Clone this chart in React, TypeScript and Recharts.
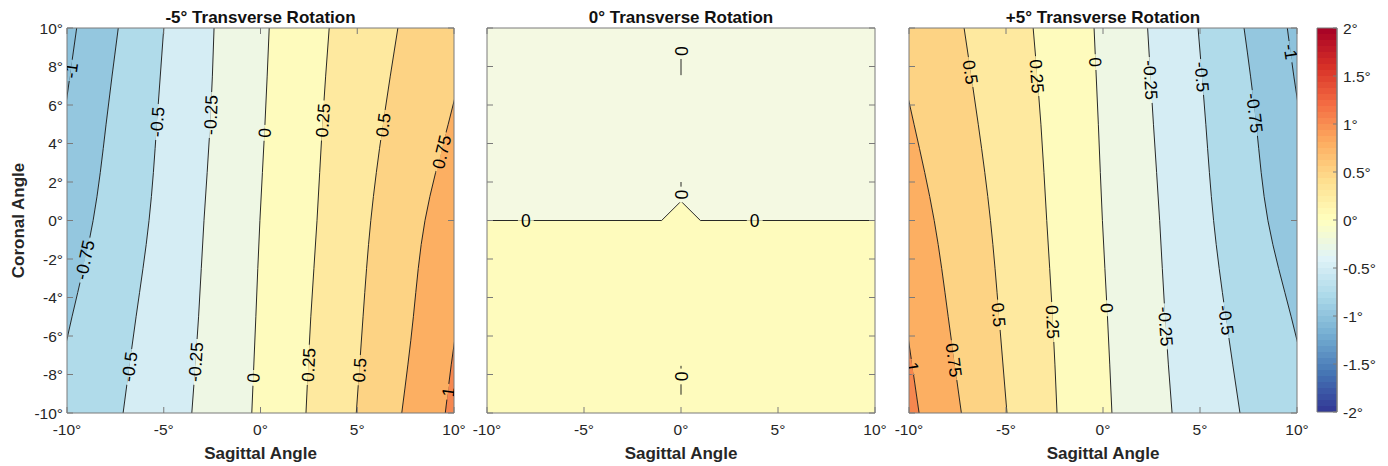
import React from 'react';
import { ComposedChart, Area, Line, Scatter, XAxis, YAxis, Bar } from 'recharts';

const FONT = "'Liberation Sans', Arial, Helvetica, sans-serif";
const H = 466;
const LABEL_FS = 17.5;
const AXIS = '#7a7a7a';
const TXT = '#262626';

// coronal rows at which contour positions were read
const coronalRows = [10, 5, 0, -5, -10];
const sagTicks = [-10, -5, 0, 5, 10];
const corTicks = [-10, -8, -6, -4, -2, 0, 2, 4, 6, 8, 10];
const cbTicks = [-2, -1.5, -1, -0.5, 0, 0.5, 1, 1.5, 2];

// -5° transverse: sagittal angle of each contour at each coronal row
const negLevels = [-1, -0.75, -0.5, -0.25, 0, 0.25, 0.5, 0.75, 1];
const neg_m1 = [-9.5, -10.2, -10.9, -11.6, -12.3];
const neg_m075 = [-7.35, -7.98, -8.65, -9.74, -10.85];
const neg_m05 = [-5.0, -5.36, -5.76, -6.43, -7.1];
const neg_m025 = [-2.4, -2.6, -2.92, -3.2, -3.55];
const neg_0 = [0.45, 0.23, -0.03, -0.24, -0.45];
const neg_025 = [3.55, 3.2, 2.92, 2.6, 2.35];
const neg_05 = [7.1, 6.33, 5.7, 5.3, 4.95];
const neg_075 = [10.9, 9.7, 8.5, 7.9, 7.3];
const neg_1 = [12.8, 12.0, 11.2, 10.23, 9.55];
const negLabels = [
  { level: -1, y: 7.8 }, { level: -0.75, y: -2.05 },
  { level: -0.5, y: 5.12 }, { level: -0.25, y: 5.48 }, { level: 0, y: 4.55 },
  { level: 0.25, y: 5.2 }, { level: 0.5, y: 4.96 }, { level: 0.75, y: 3.56 },
  { level: -0.5, y: -7.6 }, { level: -0.25, y: -7.35 }, { level: 0, y: -8.18 },
  { level: 0.25, y: -7.5 }, { level: 0.5, y: -7.77 }, { level: 1, y: -8.9 },
];

// +5° transverse
const posLevels = [1, 0.75, 0.5, 0.25, 0, -0.25, -0.5, -0.75, -1];
const pos_1 = [-12.3, -11.6, -10.9, -10.2, -9.48];
const pos_075 = [-10.85, -9.74, -8.7, -7.98, -7.3];
const pos_05 = [-7.16, -6.43, -5.8, -5.36, -4.95];
const pos_025 = [-3.6, -3.2, -2.9, -2.6, -2.37];
const pos_0 = [-0.46, -0.24, -0.03, 0.23, 0.46];
const pos_m025 = [2.3, 2.6, 2.92, 3.2, 3.56];
const pos_m05 = [4.9, 5.3, 5.7, 6.33, 7.06];
const pos_m075 = [7.27, 7.9, 8.5, 9.7, 10.85];
const pos_m1 = [9.5, 10.23, 11.2, 12.0, 12.8];
const posLabels = [
  { level: 0.5, y: 7.71 }, { level: 0.25, y: 7.5 }, { level: 0, y: 8.23 },
  { level: -0.25, y: 7.3 }, { level: -0.5, y: 7.46 }, { level: -0.75, y: 5.58 },
  { level: -1, y: 8.77 }, { level: 0.75, y: -7.25 }, { level: 0.5, y: -4.9 },
  { level: 0.25, y: -5.27 }, { level: 0, y: -4.55 }, { level: -0.25, y: -5.5 },
  { level: -0.5, y: -5.17 }, { level: 1, y: -7.6 },
];

// 0° transverse: the zero contour (coronal as a function of sagittal)
const zeroX = [-10, -1, 0, 1, 10];
const zeroY = [0, 0, 1, 0, 0];
const stubTop = [{ x: 0, y: 8.8 }, { x: 0, y: 7.55 }];
const stubMid = [{ x: 0, y: 2.0 }, { x: 0, y: 1.0 }];
const stubLow = [{ x: 0, y: -7.55 }, { x: 0, y: -9.05 }];
const midLabelSpots = [
  { x: -8.0, y: 0, dir: 'h' }, { x: 3.8, y: 0, dir: 'h' },
  { x: 0, y: 8.8, dir: 'v' }, { x: 0, y: 1.35, dir: 'v' }, { x: 0, y: -8.1, dir: 'v' },
];

// band fills keyed by lower level of the band
const BAND_FILL: Record<string, string> = {
  lo: '#8dc2dc', '-1': '#94c7df', '-0.75': '#b0dbea', '-0.5': '#d5edf4',
  '-0.25': '#eef7e4', '0': '#fefbbd', '0.25': '#fee99f', '0.5': '#fdd384',
  '0.75': '#fcaf62', '1': '#f6874f',
};
const MID_TOP = '#f4f9e2';
const MID_BOTTOM = '#fefbbd';

const RDYLBU = ['#313695', '#4575b4', '#74add1', '#abd9e9', '#e0f3f8', '#ffffbf',
  '#fee090', '#fdae61', '#f46d43', '#d73027', '#a50026'];

function cmap(p: number) {
  const s = Math.min(p * 10, 9.9999);
  const i = Math.floor(s);
  const t = s - i;
  const a = RDYLBU[i], b = RDYLBU[i + 1];
  const ch = (h: string, o: number) => parseInt(h.slice(o, o + 2), 16);
  const mix = (o: number) => Math.round(ch(a, o) + (ch(b, o) - ch(a, o)) * t);
  return `rgb(${mix(1)},${mix(3)},${mix(5)})`;
}

function fillFor(levels: number[], k: number) {
  const a = k > 0 ? levels[k - 1] : null;
  const b = k < levels.length ? levels[k] : null;
  if (a === null) return b! < 0 ? BAND_FILL.lo : BAND_FILL[String(b)];
  if (b === null) return a < 0 ? BAND_FILL.lo : BAND_FILL[String(a)];
  return BAND_FILL[String(Math.min(a, b))];
}

function interp(xs: number[], y: number) {
  for (let i = 0; i < coronalRows.length - 1; i++) {
    const y0 = coronalRows[i], y1 = coronalRows[i + 1];
    if (y <= y0 && y >= y1) {
      const t = (y - y0) / (y1 - y0);
      return { x: xs[i] + t * (xs[i + 1] - xs[i]), slope: (xs[i + 1] - xs[i]) / (y1 - y0) };
    }
  }
  return { x: xs[0], slope: 0 };
}

const glyphW = (s: string) =>
  s.split('').reduce((w, c) => w + (c === '.' ? 0.278 : c === '-' ? 0.333 : 0.556), 0);

const ContourLabel = (props: any) => {
  const { cx, cy, payload } = props;
  if (cx == null || cy == null || !payload) return <g />;
  const w = glyphW(payload.text) * LABEL_FS + 6;
  return (
    <g transform={`translate(${cx},${cy}) rotate(${payload.angle})`}>
      <rect x={-w / 2} y={-1.8} width={w} height={1.8} fill={payload.sideA} />
      <rect x={-w / 2} y={0} width={w} height={1.8} fill={payload.sideB} />
      <text x={0} y={0} dy="0.36em" textAnchor="middle" fontSize={LABEL_FS} fontFamily={FONT} fill="#000">
        {payload.text}
      </text>
    </g>
  );
};

const noDot = () => <g />;
const fmtDeg = (v: number) => `${v}°`;
const blank = () => '';
const tickStyle = { fill: TXT, fontSize: 15.5, fontFamily: FONT };

const titleLabel = (title: string) => (p: any) => {
  const vb = p.viewBox;
  return (
    <text x={vb.x + vb.width / 2} y={vb.y + vb.height - 5} textAnchor="middle"
      fontWeight="bold" fontSize={17} fontFamily={FONT} fill="#111">{title}</text>
  );
};
const xTitle = (p: any) => {
  const vb = p.viewBox;
  return (
    <text x={vb.x + vb.width / 2} y={vb.y + vb.height - 7} textAnchor="middle"
      fontWeight="bold" fontSize={17} fontFamily={FONT} fill={TXT}>Sagittal Angle</text>
  );
};
const yTitle = (p: any) => {
  const vb = p.viewBox;
  const x = vb.x + 24, y = vb.y + vb.height / 2;
  return (
    <text x={x} y={y} transform={`rotate(-90 ${x} ${y})`} textAnchor="middle"
      fontWeight="bold" fontSize={17} fontFamily={FONT} fill={TXT}>Coronal Angle</text>
  );
};

function axes(title: string, leftW: number, rightW: number, showY: boolean, flipY: boolean) {
  return [
    <XAxis key="xb" xAxisId={0} type="number" dataKey="x" domain={[-10, 10]} allowDataOverflow ticks={sagTicks}
      tickFormatter={fmtDeg} tick={tickStyle} height={53} tickSize={-6} tickMargin={17}
      axisLine={{ stroke: AXIS }} tickLine={{ stroke: AXIS }} label={xTitle} />,
    <XAxis key="xt" xAxisId="t" orientation="top" type="number" domain={[-10, 10]} allowDataOverflow
      ticks={sagTicks} tickFormatter={blank} tick={tickStyle} height={28} tickSize={-6} tickMargin={4}
      axisLine={{ stroke: AXIS }} tickLine={{ stroke: AXIS }} label={titleLabel(title)} />,
    <YAxis key="yl" yAxisId={0} type="number" dataKey="y" domain={[-10, 10]} allowDataOverflow ticks={corTicks}
      reversed={flipY} tickFormatter={showY ? fmtDeg : blank} tick={tickStyle} width={leftW} tickSize={-6} tickMargin={10}
      axisLine={{ stroke: AXIS }} tickLine={{ stroke: AXIS }} label={showY ? yTitle : undefined} />,
    <YAxis key="yr" yAxisId="r" orientation="right" type="number" domain={[-10, 10]} allowDataOverflow
      reversed={flipY} ticks={corTicks} tickFormatter={blank} tick={tickStyle} width={rightW} tickSize={-6} tickMargin={4}
      axisLine={{ stroke: AXIS }} tickLine={{ stroke: AXIS }} />,
  ];
}

function ContourPanel(props: {
  title: string; levels: number[]; contours: number[][]; labels: { level: number; y: number }[];
  reading: 'up' | 'down'; width: number; leftW: number; rightW: number; showY: boolean;
}) {
  const { title, levels, contours, labels, reading, width, leftW, rightW, showY } = props;
  const n = contours.length;
  const data = coronalRows.map((y, i) => {
    const row: any = { y };
    contours.forEach((c, k) => { row['c' + k] = c[i]; });
    for (let k = 0; k <= n; k++) {
      row['b' + k] = [k === 0 ? -15 : contours[k - 1][i], k === n ? 15 : contours[k][i]];
    }
    return row;
  });
  const labelPts = labels.map((l) => {
    const k = levels.indexOf(l.level);
    const { x, slope } = interp(contours[k], l.y);
    const ang = reading === 'up' ? Math.atan2(-1, slope) : Math.atan2(1, -slope);
    const lc = fillFor(levels, k), rc = fillFor(levels, k + 1);
    return {
      x, y: l.y, text: String(l.level), angle: (ang * 180) / Math.PI,
      sideA: reading === 'up' ? lc : rc, sideB: reading === 'up' ? rc : lc,
    };
  });
  const bands = Array.from({ length: n + 1 }, (_, k) => k);
  return (
    <ComposedChart width={width} height={H} layout="vertical" data={data}
      margin={{ top: 0, right: 0, bottom: 0, left: 0 }}>
      {bands.map((k) => (
        <Area key={'b' + k} dataKey={'b' + k} type="natural" fill={fillFor(levels, k)} fillOpacity={1}
          stroke="none" isAnimationActive={false} activeDot={false} />
      ))}
      {contours.map((_, k) => (
        <Line key={'c' + k} dataKey={'c' + k} type="natural" stroke="#111" strokeWidth={0.9}
          dot={false} activeDot={false} isAnimationActive={false} />
      ))}
      <Scatter data={labelPts} shape={ContourLabel} isAnimationActive={false} />
      {axes(title, leftW, rightW, showY, true)}
    </ComposedChart>
  );
}

function MiddlePanel() {
  const data = zeroX.map((x, i) => ({ x, zc: zeroY[i], up: [zeroY[i], 15], dn: [-15, zeroY[i]] }));
  const labelPts = midLabelSpots.map((s) => ({
    x: s.x, y: s.y, text: '0', angle: s.dir === 'h' ? 0 : 90,
    sideA: s.dir === 'h' ? MID_TOP : s.y > 0 ? MID_TOP : MID_BOTTOM,
    sideB: s.dir === 'h' ? MID_BOTTOM : s.y > 0 ? MID_TOP : MID_BOTTOM,
  }));
  const stubLine = { stroke: '#111', strokeWidth: 0.9 };
  return (
    <ComposedChart width={420} height={H} data={data} margin={{ top: 0, right: 0, bottom: 0, left: 0 }}>
      <Area dataKey="up" type="linear" fill={MID_TOP} fillOpacity={1} stroke="none" isAnimationActive={false} activeDot={false} />
      <Area dataKey="dn" type="linear" fill={MID_BOTTOM} fillOpacity={1} stroke="none" isAnimationActive={false} activeDot={false} />
      <Line dataKey="zc" type="linear" stroke="#111" strokeWidth={0.9} dot={false} activeDot={false} isAnimationActive={false} />
      <Scatter data={stubTop} line={stubLine} lineType="joint" shape={noDot} isAnimationActive={false} />
      <Scatter data={stubMid} line={stubLine} lineType="joint" shape={noDot} isAnimationActive={false} />
      <Scatter data={stubLow} line={stubLine} lineType="joint" shape={noDot} isAnimationActive={false} />
      <Scatter data={labelPts} shape={ContourLabel} isAnimationActive={false} />
      {axes('0° Transverse Rotation', 17, 15, false, false)}
    </ComposedChart>
  );
}

const cbData = [{ k: 'cb', span: [-2, 2] }];

function Colorbar() {
  const colors = Array.from({ length: 64 }, (_, i) => cmap((i + 0.5) / 64));
  return (
    <ComposedChart width={88} height={H} data={cbData} barCategoryGap={0}
      margin={{ top: 28, right: 0, bottom: 54, left: 17 }}>
      <defs>
        <linearGradient id="cbg" x1="0" y1="1" x2="0" y2="0">
          {colors.flatMap((c, i) => [
            <stop key={'a' + i} offset={i / 64} stopColor={c} />,
            <stop key={'b' + i} offset={(i + 1) / 64} stopColor={c} />,
          ])}
        </linearGradient>
      </defs>
      <XAxis dataKey="k" type="category" hide />
      <YAxis orientation="right" type="number" domain={[-2, 2]} ticks={cbTicks} width={51}
        tickFormatter={fmtDeg} tick={tickStyle} tickSize={-4} tickMargin={10}
        axisLine={{ stroke: AXIS }} tickLine={{ stroke: AXIS }} />
      <Bar dataKey="span" fill="url(#cbg)" stroke={AXIS} strokeWidth={1} isAnimationActive={false} />
    </ComposedChart>
  );
}

export default function App() {
  const box = (left: number): React.CSSProperties => ({ position: 'absolute', left, top: 0 });
  return (
    <div style={{ position: 'absolute', left: 0, top: 0, width: 1388, height: H, background: '#fff', fontFamily: FONT }}>
      <div style={box(0)}>
        <ContourPanel title="-5° Transverse Rotation" levels={negLevels}
          contours={[neg_m1, neg_m075, neg_m05, neg_m025, neg_0, neg_025, neg_05, neg_075, neg_1]}
          labels={negLabels} reading="up" width={470} leftW={67} rightW={16} showY />
      </div>
      <div style={box(470)}>
        <MiddlePanel />
      </div>
      <div style={box(890)}>
        <ContourPanel title="+5° Transverse Rotation" levels={posLevels}
          contours={[pos_1, pos_075, pos_05, pos_025, pos_0, pos_m025, pos_m05, pos_m075, pos_m1]}
          labels={posLabels} reading="down" width={420} leftW={19} rightW={13} showY={false} />
      </div>
      <div style={box(1300)}>
        <Colorbar />
      </div>
    </div>
  );
}
